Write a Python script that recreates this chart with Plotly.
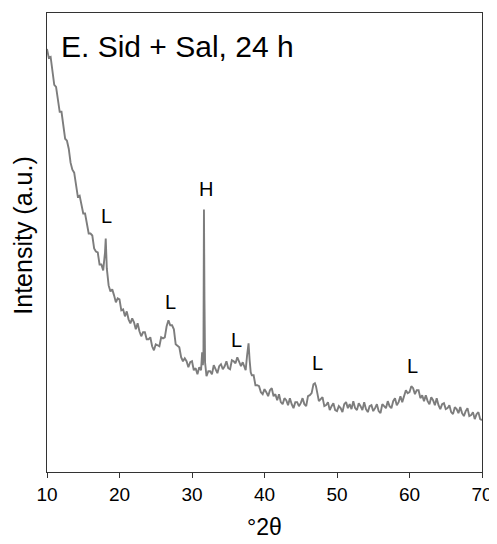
import plotly.graph_objects as go

two_theta = [
    10.0, 10.25, 10.5, 10.75, 11.0, 11.25, 11.5, 11.75, 12.0, 12.25, 12.5, 12.75,
    13.0, 13.25, 13.5, 13.75, 14.0, 14.25, 14.5, 14.75, 15.0, 15.25, 15.5, 15.75,
    16.0, 16.25, 16.5, 16.75, 17.0, 17.25, 17.5, 17.75, 18.0, 18.1, 18.25, 18.4,
    18.5, 18.75, 19.0, 19.25, 19.5, 19.75, 20.0, 20.25, 20.5, 20.75, 21.0, 21.25,
    21.5, 21.75, 22.0, 22.25, 22.5, 22.75, 23.0, 23.25, 23.5, 23.75, 24.0, 24.25,
    24.5, 24.75, 25.0, 25.25, 25.5, 25.75, 26.0, 26.25, 26.5, 26.75, 27.0, 27.25,
    27.5, 27.75, 28.0, 28.25, 28.5, 28.75, 29.0, 29.25, 29.5, 29.75, 30.0, 30.25,
    30.5, 30.75, 31.0, 31.25, 31.4, 31.5, 31.58, 31.65, 31.72, 31.8, 32.0, 32.25,
    32.5, 32.75, 33.0, 33.25, 33.5, 33.75, 34.0, 34.25, 34.5, 34.75, 35.0, 35.25,
    35.5, 35.75, 36.0, 36.25, 36.5, 36.75, 37.0, 37.25, 37.4, 37.6, 37.8, 37.95,
    38.1, 38.25, 38.5, 38.75, 39.0, 39.25, 39.5, 39.75, 40.0, 40.25, 40.5, 40.75,
    41.0, 41.25, 41.5, 41.75, 42.0, 42.25, 42.5, 42.75, 43.0, 43.25, 43.5, 43.75,
    44.0, 44.25, 44.5, 44.75, 45.0, 45.25, 45.5, 45.75, 46.0, 46.25, 46.5, 46.75,
    46.95, 47.1, 47.25, 47.5, 47.75, 48.0, 48.25, 48.5, 48.75, 49.0, 49.25, 49.5,
    49.75, 50.0, 50.25, 50.5, 50.75, 51.0, 51.25, 51.5, 51.75, 52.0, 52.25, 52.5,
    52.75, 53.0, 53.25, 53.5, 53.75, 54.0, 54.25, 54.5, 54.75, 55.0, 55.25, 55.5,
    55.75, 56.0, 56.25, 56.5, 56.75, 57.0, 57.25, 57.5, 57.75, 58.0, 58.25, 58.5,
    58.75, 59.0, 59.25, 59.5, 59.75, 60.0, 60.25, 60.5, 60.75, 61.0, 61.25, 61.5,
    61.75, 62.0, 62.25, 62.5, 62.75, 63.0, 63.25, 63.5, 63.75, 64.0, 64.25, 64.5,
    64.75, 65.0, 65.25, 65.5, 65.75, 66.0, 66.25, 66.5, 66.75, 67.0, 67.25, 67.5,
    67.75, 68.0, 68.25, 68.5, 68.75, 69.0, 69.25, 69.5, 69.75, 70.0,
]

intensity = [
    424, 415, 416, 400, 388, 386, 375, 361, 361, 346, 334, 332,
    324, 310, 303, 300, 285, 276, 277, 268, 259, 259, 248, 239,
    239, 237, 224, 221, 220, 208, 208, 202, 220, 234, 204, 192,
    187, 181, 183, 177, 170, 174, 173, 162, 163, 156, 161, 153,
    149, 154, 150, 143, 149, 141, 136, 140, 140, 133, 133, 135,
    126, 122, 128, 127, 126, 135, 134, 135, 146, 152, 147, 147,
    143, 128, 126, 125, 115, 111, 114, 111, 105, 110, 111, 102,
    104, 98, 105, 102, 120, 107, 117, 263, 172, 110, 96, 101,
    101, 98, 107, 102, 99, 106, 108, 103, 106, 111, 104, 103,
    112, 111, 109, 115, 111, 106, 110, 104, 102, 117, 129, 112,
    100, 97, 97, 87, 87, 86, 80, 78, 83, 80, 76, 82,
    84, 76, 78, 72, 78, 70, 68, 74, 72, 67, 74, 68,
    64, 70, 70, 66, 69, 74, 68, 66, 76, 77, 79, 88,
    89, 86, 79, 71, 73, 75, 66, 67, 70, 62, 66, 69,
    62, 61, 66, 64, 60, 68, 70, 64, 68, 63, 71, 64,
    62, 69, 66, 62, 70, 63, 60, 66, 67, 61, 64, 68,
    61, 59, 68, 66, 64, 71, 66, 64, 71, 74, 67, 70,
    76, 70, 77, 82, 79, 80, 86, 84, 78, 82, 82, 74,
    77, 71, 77, 71, 68, 75, 72, 67, 74, 67, 63, 68,
    69, 63, 64, 67, 60, 58, 65, 63, 59, 65, 59, 56,
    61, 64, 56, 57, 60, 53, 58, 60, 53, 52,
]

x_ticks = [10, 20, 30, 40, 50, 60, 70]

peak_labels = ["L", "H", "L", "L", "L", "L"]
peak_label_x = [18.2, 31.9, 27.1, 36.1, 47.25, 60.4]
peak_label_y = [257, 284, 170, 132, 109, 106]

panel_title = "E. Sid + Sal, 24 h"
x_title = "°2θ"
y_title = "Intensity (a.u.)"

FONT = "Liberation Sans, Arial, sans-serif"

fig = go.Figure()
fig.add_trace(go.Scatter(
    x=two_theta, y=intensity, mode="lines",
    line=dict(color="#7d7d7d", width=1.9),
    showlegend=False, hoverinfo="skip",
))

for t, xv, yv in zip(peak_labels, peak_label_x, peak_label_y):
    fig.add_annotation(x=xv, y=yv, xref="x", yref="y", text=t, showarrow=False,
                       font=dict(family=FONT, size=20, color="black"),
                       xanchor="center", yanchor="middle")

fig.add_annotation(x=0.027, y=0.926, xref="paper", yref="paper", text=panel_title,
                   showarrow=False, xanchor="left", yanchor="middle",
                   font=dict(family=FONT, size=30, color="black"))
fig.add_annotation(x=0.5, y=-0.12, xref="paper", yref="paper", text=x_title,
                   showarrow=False, xanchor="center", yanchor="middle",
                   font=dict(family=FONT, size=23, color="black"))
fig.add_annotation(x=-0.055, y=0.515, xref="paper", yref="paper", text=y_title,
                   showarrow=False, xanchor="center", yanchor="middle", textangle=-90,
                   font=dict(family=FONT, size=25, color="black"))

# page body has an 8 px margin, so the figure is sized/margined to compensate
fig.update_layout(
    width=489, height=536,
    margin=dict(l=39, r=12, t=4, b=72),
    paper_bgcolor="white", plot_bgcolor="white",
    font=dict(family=FONT, color="black"),
)
fig.update_xaxes(
    range=[10, 70], tickvals=x_ticks, ticktext=[str(v) for v in x_ticks],
    ticks="outside", ticklen=5, tickwidth=1.3, tickcolor="#333333",
    showline=True, linecolor="#333333", linewidth=1.3, mirror=True,
    showgrid=False, zeroline=False,
    tickfont=dict(family=FONT, size=19, color="black"),
)
fig.update_yaxes(
    range=[0, 460], showticklabels=False, ticks="",
    showline=True, linecolor="#333333", linewidth=1.3, mirror=True,
    showgrid=False, zeroline=False,
)

fig.write_html("out.html")
